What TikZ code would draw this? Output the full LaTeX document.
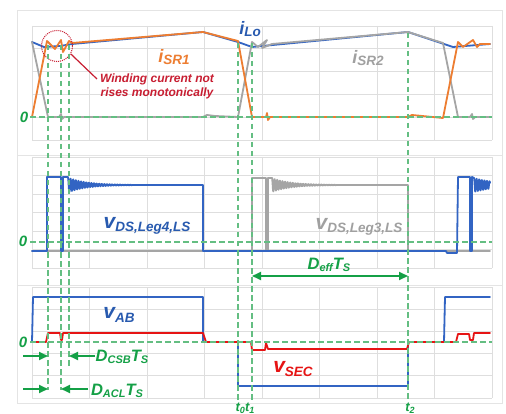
\documentclass[tikz,border=0pt]{standalone}
\usepackage{fontspec}
\setmainfont{Liberation Sans}
\usetikzlibrary{arrows.meta}
\definecolor{cblue}{RGB}{50,100,195}
\definecolor{cbluet}{RGB}{40,90,175}
\definecolor{corange}{RGB}{237,125,49}
\definecolor{cgrey}{RGB}{165,165,165}
\definecolor{cgreyt}{RGB}{160,160,160}
\definecolor{cred}{RGB}{230,20,20}
\definecolor{credt}{RGB}{200,30,50}
\definecolor{cgreen}{RGB}{20,160,70}
\definecolor{cgreenl}{RGB}{100,190,130}
\definecolor{cgrid}{RGB}{222,222,222}
\definecolor{cframe}{RGB}{228,228,228}
\newcommand{\lab}[4]{{\fontsize{#1}{#1}\selectfont #3\raisebox{-0.15em}{\fontsize{#2}{#2}\selectfont #4}}}
\tikzset{
  wave/.style={line width=1.8pt, line join=round, line cap=round},
  bl/.style={wave, draw=cblue},
  orw/.style={wave, draw=corange},
  gyw/.style={wave, draw=cgrey},
  rdw/.style={wave, draw=cred},
  zdash/.style={draw=cgreenl, line width=1.3pt, dash pattern=on 5.5pt off 3.5pt},
  gridl/.style={draw=cgrid, line width=0.8pt},
  framel/.style={draw=cframe, line width=0.8pt},
  dimarrow/.style={draw=cgreen, line width=1.8pt, -{Triangle[length=9pt,width=8pt]}},
  dimboth/.style={draw=cgreen, line width=1.8pt, {Triangle[length=9pt,width=8pt]}-{Triangle[length=9pt,width=8pt]}},
  lbl/.style={inner sep=0pt, font=\bfseries\itshape},
}
\begin{document}
\begin{tikzpicture}[x=1pt,y=-1pt]
\useasboundingbox (0,0) rectangle (506,414);
\fill[white] (0,0) rectangle (506,414);
% frames
\draw[framel] (17,10) rectangle (502,155);
\draw[framel] (17,155) rectangle (502,285);
\draw[framel] (17,285) rectangle (502,403);
% grids
\foreach \i in {0,...,8} {
  \draw[gridl] ({32+57.5*\i},26) -- ({32+57.5*\i},140);
  \draw[gridl] ({32+57.5*\i},157) -- ({32+57.5*\i},268);
  \draw[gridl] ({32+57.5*\i},287) -- ({32+57.5*\i},398);
}
\foreach \j in {0,...,5} {
  \draw[gridl] (32,{26+22.8*\j}) -- (492,{26+22.8*\j});
  \draw[gridl] (32,{287+22.2*\j}) -- (492,{287+22.2*\j});
}
\foreach \j in {0,...,6} {
  \draw[gridl] (32,{157+18.5*\j}) -- (492,{157+18.5*\j});
}
% ---------- panel 1 ----------
\draw[bl] (32,42) -- (44,47) -- (60,46) -- (72,44) -- (203,32) -- (238,42) -- (252,47) -- (408,32) -- (453,47) -- (490,44);
\draw[gyw] (32,42) -- (48,117) -- (59,117) -- (61,114) -- (62,119) -- (64,117) -- (203,117) -- (207,115) -- (215,116) -- (238,117) -- (252,42) -- (258,47) -- (267,40) -- (262,48) -- (272,44) -- (408,32) -- (443,43) -- (458,117) -- (470,117) -- (472,114) -- (473,119) -- (475,117) -- (490,117);
\draw[orw] (32,117) -- (47,41) -- (55,49) -- (61,40) -- (63,52) -- (69,41) -- (72,43) -- (203,32) -- (238,41) -- (252,117) -- (266,117) -- (267,113) -- (268,120) -- (270,117) -- (408,117) -- (412,115) -- (443,118) -- (458,42) -- (463,47) -- (473,40) -- (477,47) -- (480,44) -- (490,44);
\draw[zdash] (30,117) -- (492,117);
% circle and pointer
\node[draw=credt, densely dotted, line width=1pt, circle, minimum size=31pt, inner sep=0pt] (circ) at (57,46) {};
\node[lbl, text=credt, align=center, font=\bfseries\itshape\fontsize{12}{14}\selectfont] (wind) at (157,86) {Winding current not\\rises monotonically};
\coordinate (wtip) at (97,79);
\draw[credt, line width=1.2pt] (circ.-30) -- (wtip);
% labels panel 1
\node[lbl, text=cbluet] (iLo) at (250,29) {\lab{18}{13.5}{i}{Lo}};
\node[lbl, text=corange] (iSR1) at (174,57) {\lab{18}{13.5}{i}{SR1}};
\node[lbl, text=cgreyt] (iSR2) at (368,58) {\lab{18}{13.5}{i}{SR2}};
\node[lbl, text=cgreen] (z1) at (24,117) {\fontsize{15}{15}\selectfont 0};
% ---------- panel 2 ----------
\draw[gyw] (32,251) -- (252,251) -- (252,178) -- (266,178) -- (266,251) -- (268,251) -- (268,178) -- (272,178);
\draw[gyw] plot[domain=272:336, samples=260] (\x,{185-7*exp(-(\x-272)/18)*cos((\x-272)*138.46)});
\draw[gyw] (336,185) -- (408,185) -- (408,251) -- (490,251);
\draw[bl] (32,251) -- (47,251) -- (47,177) -- (61,177) -- (61,251) -- (63,251) -- (63,177) -- (68,177);
\draw[bl] plot[domain=68:132, samples=260] (\x,{185-7.5*exp(-(\x-68)/18)*cos((\x-68)*138.46)});
\draw[bl] (132,185) -- (203,185) -- (203,251) -- (446,251) -- (447,253) -- (457,253) -- (458,177) -- (470,177) -- (470,251) -- (472,251) -- (472,177) -- (474,178);
\draw[bl] plot[domain=474:490, samples=80] (\x,{185-7*exp(-(\x-474)/25)*cos((\x-474)*138.46)});
\draw[zdash] (30,242) -- (492,242);
\node[lbl, text=cgreen] (z2) at (23,241) {\fontsize{15}{15}\selectfont 0};
\node[lbl, text=cbluet] (vds4) at (147,226) {\lab{21}{13.5}{v}{DS,Leg4,LS}};
\node[lbl, text=cgreyt] (vds3) at (359,227) {\lab{21}{13.5}{v}{DS,Leg3,LS}};
\node[lbl, text=cgreen] (deff) at (329,265) {\lab{16.5}{11}{D}{eff}\lab{16.5}{11}{T}{S}};
% ---------- panel 3 ----------
\draw[bl] (32,342) -- (33,297) -- (203,297) -- (203,342) -- (238,342) -- (238,386) -- (408,386) -- (408,342) -- (444,342) -- (445,297) -- (490,297);
\draw[rdw] (32,342) -- (46,342) -- (48,333) -- (60,333) -- (61,340) -- (62,340) -- (63,333) -- (203,333) -- (206,342) -- (251,342) -- (252,350) -- (265,350) -- (266,343) -- (268,349) -- (407,349) -- (409,342) -- (456,342) -- (458,334) -- (469,334) -- (470,340) -- (473,340) -- (474,333) -- (490,333);
\draw[zdash] (30,342) -- (492,342);
\node[lbl, text=cgreen] (z3) at (23,342) {\fontsize{15}{15}\selectfont 0};
\node[lbl, text=cbluet] (vab) at (119,315) {\lab{21}{13.5}{v}{AB}};
\node[lbl, text=cred] (vsec) at (293,369) {\lab{21}{13.5}{v}{SEC}};
\node[lbl, text=cgreen] (dcsb) at (122,357) {\lab{16.5}{11}{D}{CSB}\lab{16.5}{11}{T}{S}};
\node[lbl, text=cgreen] (dacl) at (117,391) {\lab{16.5}{11}{D}{ACL}\lab{16.5}{11}{T}{S}};
\node[lbl, text=cgreen] (t01) at (245,408) {\lab{13}{9}{t}{0}\lab{13}{9}{t}{1}};
\node[lbl, text=cgreen] (t2) at (410,408) {\lab{13}{9}{t}{2}};
% ---------- vertical dashed lines ----------
\coordinate (va1) at (48,45);  \coordinate (vb1) at (48,390);
\coordinate (va2) at (61,45);  \coordinate (vb2) at (61,390);
\coordinate (va3) at (69,45);  \coordinate (vb3) at (69,368);
\coordinate (va4) at (238,43); \coordinate (vb4) at (238,400);
\coordinate (va5) at (252,43); \coordinate (vb5) at (252,400);
\coordinate (va6) at (408,33); \coordinate (vb6) at (408,400);
\foreach \k in {1,...,6} \draw[zdash] (va\k) -- (vb\k);
% ---------- dimension arrows ----------
\coordinate (e1) at (252,276); \coordinate (e2) at (408,276);
\draw[dimboth] (e1) -- (e2);
\coordinate (c1) at (23,356); \coordinate (c2) at (48,356);
\coordinate (c3) at (95,356); \coordinate (c4) at (69,356);
\draw[dimarrow] (c1) -- (c2);
\draw[dimarrow] (c3) -- (c4);
\coordinate (a1) at (23,389); \coordinate (a2) at (48,389);
\coordinate (a3) at (88,389); \coordinate (a4) at (61,389);
\draw[dimarrow] (a1) -- (a2);
\draw[dimarrow] (a3) -- (a4);
\end{tikzpicture}
\end{document}
